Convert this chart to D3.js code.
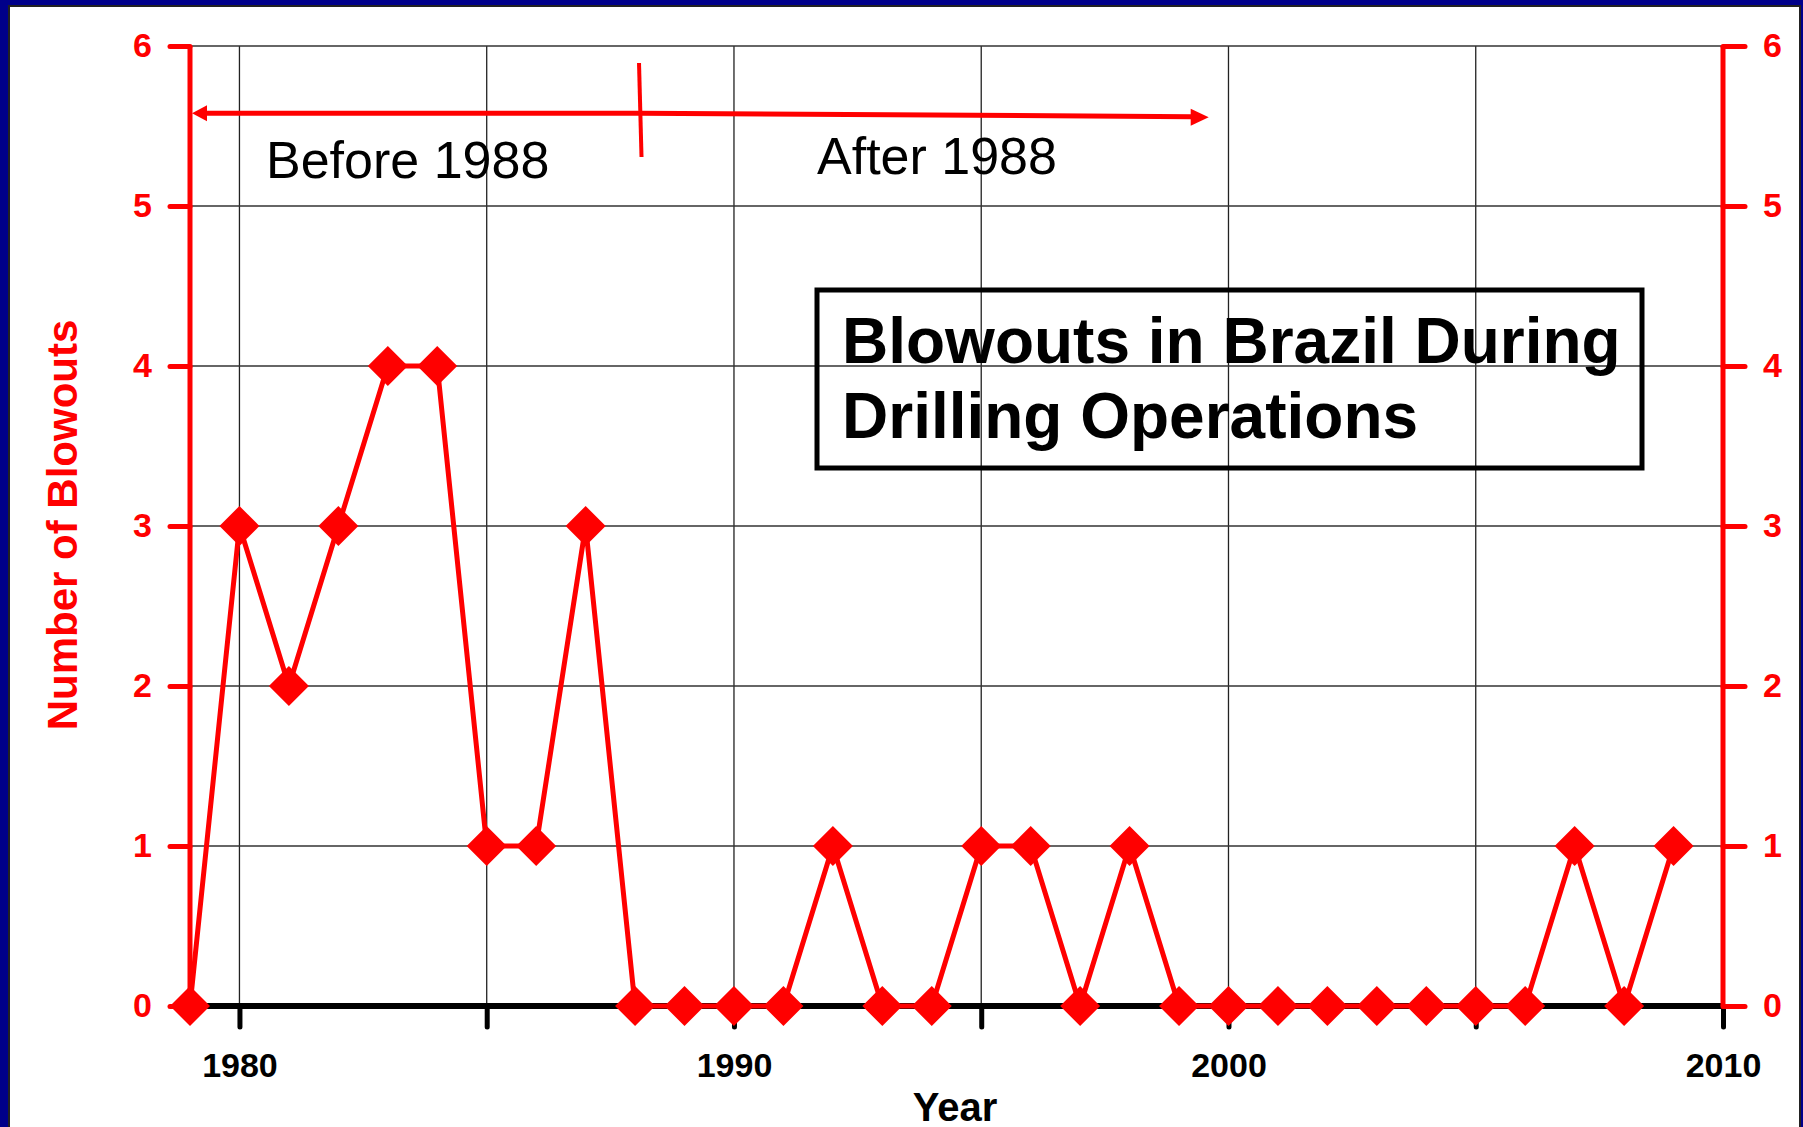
<!DOCTYPE html>
<html lang="en">
<head>
  <meta charset="UTF-8">
  <title>Blowouts in Brazil</title>
  <style>
    html, body { margin: 0; padding: 0; background: #00008a; overflow: hidden; }
    text { font-family: "Liberation Sans", Arial, sans-serif; }
  </style>
</head>
<body>
  <script src="https://d3js.org/d3.v7.min.js"></script>
  <script>
    // Data
    let years = [1979, 1980, 1981, 1982, 1983, 1984, 1985, 1986, 1987, 1988,
                 1989, 1990, 1991, 1992, 1993, 1994, 1995, 1996, 1997, 1998,
                 1999, 2000, 2001, 2002, 2003, 2004, 2005, 2006, 2007, 2008, 2009];
    let blowouts = [0, 3, 2, 3, 4, 4, 1, 1, 3, 0,
                    0, 0, 0, 1, 0, 0, 1, 1, 0, 1,
                    0, 0, 0, 0, 0, 0, 0, 0, 1, 0, 1];
    let xTickLabels = [1980, 1990, 2000, 2010];
    let xGridYears = [1980, 1985, 1990, 1995, 2000, 2005];
    let xTickYears = [1980, 1985, 1990, 1995, 2000, 2005, 2010];
    let yTicks = [0, 1, 2, 3, 4, 5, 6];

    let data = years.map((yr, i) => ({ year: yr, value: blowouts[i] }));

    let svgWidth = 1803;
    let svgHeight = 1127;
    let red = "#ff0000";

    let svg = d3.select("body")
      .append("svg")
      .attr("width", svgWidth)
      .attr("height", svgHeight);

    // white slide panel
    svg.append("rect")
      .attr("x", 9).attr("y", 6)
      .attr("width", 1791).attr("height", 1140)
      .attr("fill", "#fff")
      .attr("stroke", "#222")
      .attr("stroke-width", 2);

    let x = d3.scaleLinear().domain([1979, 2010]).range([190, 1723]);
    let y = d3.scaleLinear().domain([0, 6]).range([1006, 46]);

    // gridlines
    svg.append("g").selectAll("line")
      .data(xGridYears)
      .enter().append("line")
      .attr("x1", d => x(d)).attr("x2", d => x(d))
      .attr("y1", y(6)).attr("y2", y(0))
      .attr("stroke", "#222").attr("stroke-width", 1.3);

    svg.append("g").selectAll("line")
      .data(yTicks.slice(1))
      .enter().append("line")
      .attr("x1", x(1979)).attr("x2", x(2010))
      .attr("y1", d => y(d)).attr("y2", d => y(d))
      .attr("stroke", "#333").attr("stroke-width", 1.3);

    // title box
    svg.append("rect")
      .attr("x", 817).attr("y", 290)
      .attr("width", 825).attr("height", 178)
      .attr("fill", "none")
      .attr("stroke", "#000")
      .attr("stroke-width", 5);

    let title = svg.append("text")
      .attr("font-size", 64)
      .attr("font-weight", "bold")
      .attr("fill", "#000");
    title.append("tspan").attr("x", 842).attr("y", 363).text("Blowouts in Brazil During");
    title.append("tspan").attr("x", 842).attr("y", 438).text("Drilling Operations");

    // before / after annotation
    let arrowY = y(5.58);
    let splitX = x(1988.1);
    let endX = x(1999.6);

    svg.append("line")
      .attr("x1", x(1979) + 14).attr("y1", arrowY)
      .attr("x2", splitX).attr("y2", arrowY)
      .attr("stroke", red).attr("stroke-width", 5);
    svg.append("path")
      .attr("d", `M${x(1979) + 2},${arrowY} L${x(1979) + 17},${arrowY - 8} L${x(1979) + 17},${arrowY + 8} Z`)
      .attr("fill", red);

    svg.append("line")
      .attr("x1", splitX).attr("y1", arrowY)
      .attr("x2", endX - 16).attr("y2", arrowY + 3.5)
      .attr("stroke", red).attr("stroke-width", 5);
    svg.append("path")
      .attr("d", `M${endX},${arrowY + 4} L${endX - 18},${arrowY - 4.5} L${endX - 18},${arrowY + 12.5} Z`)
      .attr("fill", red);

    svg.append("line")
      .attr("x1", splitX - 1).attr("y1", 63)
      .attr("x2", splitX + 1.5).attr("y2", 157)
      .attr("stroke", red).attr("stroke-width", 4);

    svg.append("text")
      .attr("x", 266).attr("y", 178)
      .attr("font-size", 52)
      .attr("fill", "#000")
      .text("Before 1988");

    svg.append("text")
      .attr("x", 817).attr("y", 174)
      .attr("font-size", 52)
      .attr("fill", "#000")
      .text("After 1988");

    // x axis (black)
    let xAxis = d3.axisBottom(x)
      .tickValues(xTickYears)
      .tickSize(21)
      .tickFormat(d => xTickLabels.includes(d) ? d : "");

    let xg = svg.append("g")
      .attr("transform", `translate(0, ${y(0)})`)
      .call(xAxis);
    xg.select(".domain").remove();
    xg.selectAll(".tick line")
      .attr("stroke", "#000").attr("stroke-width", 5).attr("stroke-linecap", "round");
    xg.selectAll(".tick text")
      .attr("font-family", "Liberation Sans, Arial, sans-serif")
      .attr("font-size", 34)
      .attr("font-weight", "bold")
      .attr("fill", "#000")
      .attr("y", 0).attr("dy", 71);

    svg.append("line")
      .attr("x1", x(1979)).attr("x2", x(2010))
      .attr("y1", y(0)).attr("y2", y(0))
      .attr("stroke", "#000").attr("stroke-width", 6);

    // red y axes
    function styleYAxis(g) {
      g.select(".domain").remove();
      g.selectAll(".tick line")
        .attr("stroke", red).attr("stroke-width", 5).attr("stroke-linecap", "round");
      g.selectAll(".tick text")
        .attr("font-family", "Liberation Sans, Arial, sans-serif")
        .attr("font-size", 34)
        .attr("font-weight", "bold")
        .attr("fill", red);
    }

    let yLeft = svg.append("g")
      .attr("transform", `translate(${x(1979)}, 0)`)
      .call(d3.axisLeft(y).tickValues(yTicks).tickSize(20).tickPadding(18).tickFormat(d3.format("d")));
    styleYAxis(yLeft);

    let yRight = svg.append("g")
      .attr("transform", `translate(${x(2010)}, 0)`)
      .call(d3.axisRight(y).tickValues(yTicks).tickSize(22).tickPadding(18).tickFormat(d3.format("d")));
    styleYAxis(yRight);

    [x(1979), x(2010)].forEach(px => {
      svg.append("line")
        .attr("x1", px).attr("x2", px)
        .attr("y1", y(6)).attr("y2", y(0))
        .attr("stroke", red).attr("stroke-width", 5);
    });

    // axis titles
    svg.append("text")
      .attr("transform", "translate(77, 525) rotate(-90)")
      .attr("text-anchor", "middle")
      .attr("font-size", 42)
      .attr("font-weight", "bold")
      .attr("fill", red)
      .text("Number of Blowouts");

    svg.append("text")
      .attr("x", 955).attr("y", 1121)
      .attr("text-anchor", "middle")
      .attr("font-size", 40)
      .attr("font-weight", "bold")
      .attr("fill", "#000")
      .text("Year");

    // data line and diamond markers
    let line = d3.line()
      .x(d => x(d.year))
      .y(d => y(d.value));

    svg.append("path")
      .datum(data)
      .attr("d", line)
      .attr("fill", "none")
      .attr("stroke", red)
      .attr("stroke-width", 5)
      .attr("stroke-linejoin", "miter");

    let diamond = d3.symbol().type(d3.symbolSquare).size(800);

    svg.append("g").selectAll("path")
      .data(data)
      .enter().append("path")
      .attr("d", diamond)
      .attr("transform", d => `translate(${x(d.year)}, ${y(d.value)}) rotate(45)`)
      .attr("fill", red);
  </script>
</body>
</html>
